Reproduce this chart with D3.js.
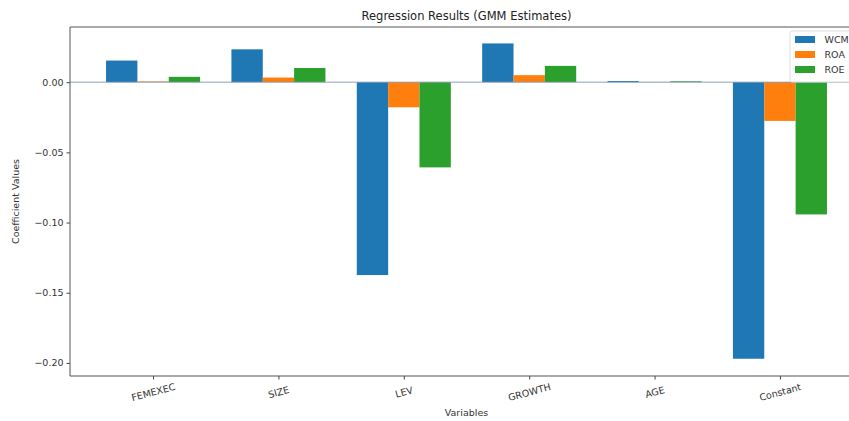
<!DOCTYPE html>
<html><head><meta charset="utf-8">
<script src="https://cdn.jsdelivr.net/npm/d3@7"></script>
<style>body{margin:0;background:#fff;overflow:hidden;} svg{display:block;} text{font-family:"DejaVu Sans",sans-serif;}</style>
</head><body>
<svg id="c" width="849" height="421"></svg>
<script>
const categories = ["FEMEXEC","SIZE","LEV","GROWTH","AGE","Constant"];
const seriesNames = ["WCM","ROA","ROE"];
const wcm = [0.0154, 0.0234, -0.1374, 0.0276, 0.0008, -0.1970];
const roa = [0.0005, 0.0033, -0.0179, 0.0050, 0.0001, -0.0276];
const roe = [0.0038, 0.0101, -0.0607, 0.0116, 0.0006, -0.0942];
const yTicks = [0.00, -0.05, -0.10, -0.15, -0.20];
const colors = ["#1f77b4","#ff7f0e","#2ca02c"];
const series = [wcm, roa, roe];

const svg = d3.select("#c");
const L = 70, R = 863, T = 27, B = 376;
const x = d3.scaleLinear().domain([-0.6625, 5.6625]).range([L, R]);
const y = d3.scaleLinear().domain([-0.2093, 0.0393]).range([B, T]);
const bw = 0.25;

series.forEach((s, si) => {
  svg.append("g").selectAll("rect").data(s).enter().append("rect")
    .attr("x", (d, i) => x(i + (si - 1) * bw - bw / 2))
    .attr("width", x(bw) - x(0))
    .attr("y", d => Math.min(y(d), y(0)))
    .attr("height", d => Math.abs(y(d) - y(0)))
    .attr("fill", colors[si]);
});

svg.append("line").attr("x1", L).attr("x2", R).attr("y1", y(0)).attr("y2", y(0))
  .attr("stroke", "#7f95b0").attr("stroke-width", 0.9);

const yAxis = d3.axisLeft(y).tickValues(yTicks).tickSize(3.5).tickPadding(3)
  .tickFormat(d => d3.format(".2f")(d).replace("-", "\u2212"));
const gy = svg.append("g").attr("transform", `translate(${L},0)`).call(yAxis);
gy.select(".domain").remove();
gy.selectAll("text").attr("font-size", 9.5).attr("fill", "#333");
gy.selectAll("line").attr("stroke", "#444");

const xAxis = d3.axisBottom(x).tickValues(d3.range(categories.length)).tickSize(3.5)
  .tickFormat(i => categories[i]);
const gx = svg.append("g").attr("transform", `translate(0,${B})`).call(xAxis);
gx.select(".domain").remove();
gx.selectAll("line").attr("stroke", "#444");
gx.selectAll("text").attr("font-size", 9.5).attr("fill", "#333")
  .attr("dy", null).attr("y", 0)
  .attr("text-anchor", "middle")
  .attr("transform", "translate(0,17) rotate(-15)")
  .attr("dominant-baseline", "middle");

// spines (right spine lies outside the visible area)
svg.append("path").attr("d", `M${R},${T}H${L}V${B}H${R}`)
  .attr("fill", "none").attr("stroke", "#555").attr("stroke-width", 1);

svg.append("text").attr("x", (L + R) / 2).attr("y", 20).attr("text-anchor", "middle")
  .attr("font-size", 11.5).attr("fill", "#222").text("Regression Results (GMM Estimates)");
svg.append("text").attr("x", (L + R) / 2).attr("y", 416).attr("text-anchor", "middle")
  .attr("font-size", 9.5).attr("fill", "#333").text("Variables");
svg.append("text").attr("transform", `translate(19,${(T + B) / 2}) rotate(-90)`)
  .attr("text-anchor", "middle").attr("font-size", 9.5).attr("fill", "#333").text("Coefficient Values");

const lg = svg.append("g").attr("transform", "translate(790,31)");
lg.append("rect").attr("x", 0).attr("y", 0).attr("width", 68).attr("height", 51)
  .attr("rx", 2).attr("fill", "#fff").attr("fill-opacity", 0.8).attr("stroke", "#ddd");
seriesNames.forEach((n, i) => {
  lg.append("rect").attr("x", 5).attr("y", 5 + i * 15).attr("width", 20).attr("height", 7)
    .attr("fill", colors[i]);
  lg.append("text").attr("x", 34.5).attr("y", 9 + i * 15).attr("dominant-baseline", "middle")
    .attr("font-size", 9.5).attr("fill", "#333").text(n);
});
</script>
</body></html>
